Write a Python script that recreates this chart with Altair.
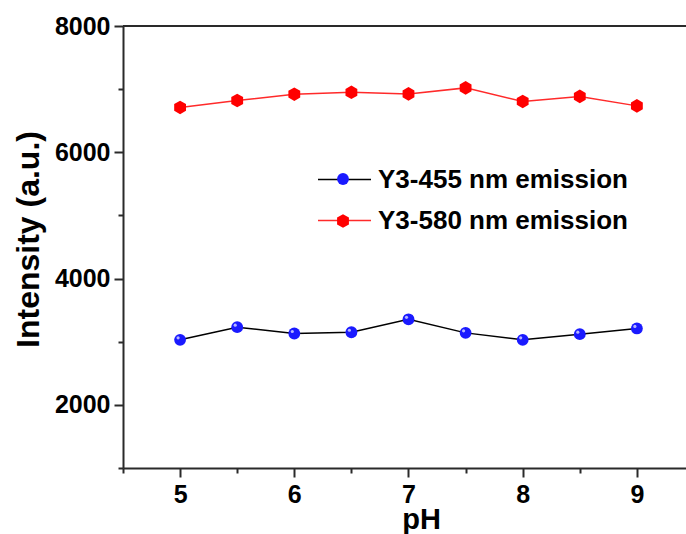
import altair as alt
import pandas as pd

# ---- data ----
ph = [5, 5.5, 6, 6.5, 7, 7.5, 8, 8.5, 9]
em455 = [3030, 3230, 3130, 3150, 3355, 3140, 3030, 3120, 3210]
em580 = [6710, 6820, 6920, 6950, 6925, 7020, 6805, 6885, 6735]
series = ["Y3-455 nm emission", "Y3-580 nm emission"]
x_ticks = [4.5, 5, 5.5, 6, 6.5, 7, 7.5, 8, 8.5, 9]
y_ticks = [1000, 2000, 3000, 4000, 5000, 6000, 7000, 8000]
top_line = [8000]

# line legend keys differ by a trailing space so Vega-Lite keeps two legends
line_series = [s + " " for s in series]

df = pd.DataFrame({
    "pH": ph + ph,
    "I": em455 + em580,
    "series": [series[0]] * len(ph) + [series[1]] * len(ph),
    "line_series": [line_series[0]] * len(ph) + [line_series[1]] * len(ph),
})

FONT = "Liberation Sans"
AX = "#2a2a2a"
HEX = "M0,-1.15L1,-0.575L1,0.575L0,1.15L-1,0.575L-1,-0.575Z"

x_enc = alt.X(
    "pH:Q",
    scale=alt.Scale(domain=[4.5, 9.43], nice=False, zero=False),
    axis=alt.Axis(
        values=x_ticks,
        format=".0f",
        labelExpr="datum.value % 1 ? '' : datum.label",
        tickSize={"condition": {"test": "datum.value % 1 != 0", "value": 5}, "value": 9},
        labelFlush=False,
        labelOverlap=False,
        labelPadding=5,
        labelFontSize=25,
        labelFont=FONT,
        labelFontWeight="bold",
        labelColor="black",
        domainColor=AX,
        domainWidth=2,
        tickColor=AX,
        tickWidth=2,
        grid=False,
        title="pH",
        titleFont=FONT,
        titleFontSize=29,
        titleFontWeight="bold",
        titleColor="black",
        titleX=298,
        titleY=60,
        titleBaseline="alphabetic",
        titleAlign="center",
    ),
)

y_enc = alt.Y(
    "I:Q",
    scale=alt.Scale(domain=[1000, 8000], nice=False, zero=False),
    axis=alt.Axis(
        values=y_ticks,
        format="d",
        labelExpr="datum.value % 2000 ? '' : datum.label",
        tickSize={"condition": {"test": "datum.value % 2000 != 0", "value": 5}, "value": 9},
        labelOverlap=False,
        labelFlush=False,
        labelPadding=4,
        labelFontSize=25,
        labelFont=FONT,
        labelFontWeight="bold",
        labelColor="black",
        domainColor=AX,
        domainWidth=2,
        tickColor=AX,
        tickWidth=2,
        grid=False,
        title="Intensity (a.u.)",
        titleFont=FONT,
        titleFontSize=32,
        titleFontWeight="bold",
        titleColor="black",
        titleAngle=270,
        titleX=-85,
        titleY=213,
        titleBaseline="alphabetic",
        titleAlign="center",
    ),
)

line_legend = alt.Legend(
    orient="none", legendX=194, legendY=126, title=None,
    symbolType="stroke", symbolSize=2809, symbolStrokeWidth=1.5,
    labelFont=FONT, labelFontSize=26, labelFontWeight="bold", labelLimit=500,
    labelColor="black", labelOffset=6, padding=0, rowPadding=-1,
)

point_legend = alt.Legend(
    orient="none", legendX=207, legendY=140, title=None,
    symbolSize=140, symbolStrokeWidth=0,
    labelFont=FONT, labelFontSize=26, labelFontWeight="bold",
    labelExpr="''", labelOffset=0, padding=0, rowPadding=16,
)

base = alt.Chart(df)

lines = base.mark_line(strokeWidth=1.5).encode(
    x=x_enc,
    y=y_enc,
    stroke=alt.Stroke(
        "line_series:N",
        scale=alt.Scale(domain=line_series, range=["#000000", "#ff2a2a"]),
        legend=line_legend,
    ),
)

points = base.mark_point(filled=True, opacity=1, strokeWidth=0, size=140).encode(
    x="pH:Q",
    y="I:Q",
    fill=alt.Fill(
        "series:N",
        scale=alt.Scale(domain=series, range=["#1a1aff", "#ff0000"]),
        legend=point_legend,
    ),
    shape=alt.Shape(
        "series:N",
        scale=alt.Scale(domain=series, range=["circle", HEX]),
        legend=point_legend,
    ),
)

shine = base.transform_filter(alt.datum.series == series[0]).mark_point(
    filled=True, color="#c8c8ff", opacity=0.9, size=10, xOffset=-2, yOffset=-2
).encode(x="pH:Q", y="I:Q")

top = alt.Chart(pd.DataFrame({"v": top_line})).mark_rule(color=AX, strokeWidth=2).encode(
    y=alt.Y("v:Q")
)

chart = alt.layer(lines, points, shine, top).properties(
    width=563,
    height=442,
    autosize=alt.AutoSizeParams(type="none"),
    padding={"left": 123, "top": 26, "right": 0, "bottom": 66},
).configure_view(stroke=None).configure(background="white")

chart.save("out.html", embed_options={"renderer": "svg", "actions": False})
